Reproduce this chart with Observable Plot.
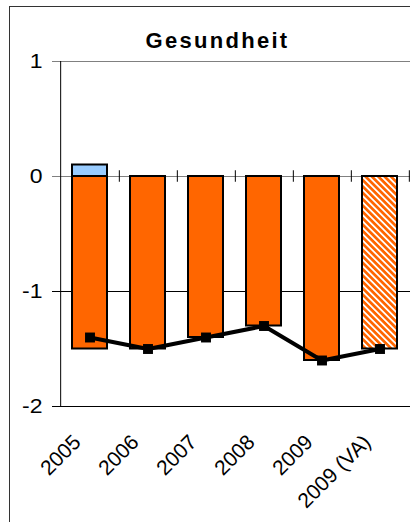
<!DOCTYPE html>
<html><head><meta charset="utf-8">
<script src="https://cdn.jsdelivr.net/npm/d3@7"></script>
<script src="https://cdn.jsdelivr.net/npm/@observablehq/plot@0.6"></script>
<style>
html,body{margin:0;padding:0;background:#fff;overflow:hidden}
#wrap{position:relative;width:410px;height:522px;overflow:hidden;font-family:"Liberation Sans",Arial,sans-serif}
#frame{position:absolute;left:9px;top:6px;width:600px;height:600px;border:1px solid #333;box-sizing:border-box}
#title{position:absolute;left:0;width:435px;top:30px;text-align:center;font-weight:bold;font-size:22px;line-height:22px;letter-spacing:2.3px;color:#000;white-space:nowrap}
#chart{position:absolute;left:0;top:0}
</style></head>
<body>
<div id="wrap">
  <div id="frame"></div>
  <div id="chart"></div>
  <div id="title">Gesundheit</div>
</div>
<script>
const categories = ["2005", "2006", "2007", "2008", "2009", "2009 (VA)"];
const negativeValues = [-1.5, -1.5, -1.4, -1.3, -1.6, -1.5];
const positiveValues = [0.1, 0, 0, 0, 0, 0];
const lineValues = [-1.4, -1.5, -1.4, -1.3, -1.6, -1.5];
const hatched = [false, false, false, false, false, true];
const yTicks = [1, 0, -1, -2];

const W = 410, H = 522, mL = 58, mR = 0, mT = 61, mB = 116;
const step = (W - mL - mR) / categories.length;
const rows = categories.map((c, i) => ({cat: c, neg: negativeValues[i], pos: positiveValues[i], line: lineValues[i], hatched: hatched[i]}));

const chart = Plot.plot({
  width: W, height: H,
  marginLeft: mL, marginRight: mR, marginTop: mT, marginBottom: mB,
  x: {type: "band", domain: categories, paddingInner: 0.4, paddingOuter: 0.2, axis: null},
  y: {domain: [-2, 1], axis: null},
  style: {fontFamily: "Liberation Sans, Arial, sans-serif", background: "transparent", overflow: "visible", color: "#000"},
  marks: [
    Plot.ruleY([1, 0], {y: d => d, stroke: "#808080", strokeWidth: 1, insetLeft: -6}),
    Plot.ruleY([-1, -2], {y: d => d, stroke: "#000", strokeWidth: 1, insetLeft: -6}),
    Plot.ruleX([categories[0]], {x: d => d, dx: -step / 2, y1: -2, y2: 1, stroke: "#000", strokeWidth: 1}),
    Plot.barY(rows.filter(d => !d.hatched), {x: "cat", y1: 0, y2: "neg", fill: "#FF6600", stroke: "#000", strokeWidth: 2}),
    Plot.barY(rows.filter(d => d.hatched), {x: "cat", y1: 0, y2: "neg", fill: "url(#hatch)", stroke: "#000", strokeWidth: 2}),
    Plot.barY(rows.filter(d => d.pos > 0), {x: "cat", y1: 0, y2: "pos", fill: "#99CCFF", stroke: "#000", strokeWidth: 2}),
    Plot.ruleX(categories, {x: d => d, dx: step / 2, y1: -0.05, y2: 0.05, stroke: "#000", strokeWidth: 1}),
    Plot.line(rows, {x: "cat", y: "line", stroke: "#000", strokeWidth: 4}),
    Plot.dot(rows, {x: "cat", y: "line", symbol: "square", r: 5.6, fill: "#000", stroke: "none"}),
    Plot.text(yTicks, {y: d => d, text: d => String(d), frameAnchor: "left", dx: -16, textAnchor: "end", fontSize: 20, fill: "#000"}),
    Plot.text(categories, {x: d => d, text: d => d, frameAnchor: "bottom", dx: -8, dy: 37, rotate: -45, textAnchor: "end", lineAnchor: "bottom", fontSize: 21, fill: "#000"})
  ]
});

const ns = "http://www.w3.org/2000/svg";
const defs = document.createElementNS(ns, "defs");
defs.innerHTML = '<pattern id="hatch" patternUnits="userSpaceOnUse" width="4.5" height="4.5" patternTransform="rotate(-45)"><rect width="4.5" height="4.5" fill="#FF6600"/><rect width="1.8" height="4.5" fill="#ffffff"/></pattern>';
chart.insertBefore(defs, chart.firstChild);

document.getElementById("chart").appendChild(chart);

// widen the y tick labels slightly around their anchor points, like the reference
const textGroups = chart.querySelectorAll('g[aria-label="text"]');
if (textGroups.length) {
  textGroups[0].querySelectorAll("text").forEach(t => {
    const x0 = parseFloat(t.getAttribute("x")) || 0;
    const y0 = parseFloat(t.getAttribute("y")) || 0;
    let ax = x0, ay = y0;
    try {
      const c = t.transform.baseVal.consolidate();
      if (c) {
        const m = c.matrix;
        ax = m.a * x0 + m.c * y0 + m.e;
        ay = m.b * x0 + m.d * y0 + m.f;
      }
    } catch (e) {}
    const tr = t.getAttribute("transform") || "";
    t.setAttribute("transform", `translate(${ax},${ay}) scale(1.15,1) translate(${-ax},${-ay}) ${tr}`);
  });
}
</script>
</body></html>
